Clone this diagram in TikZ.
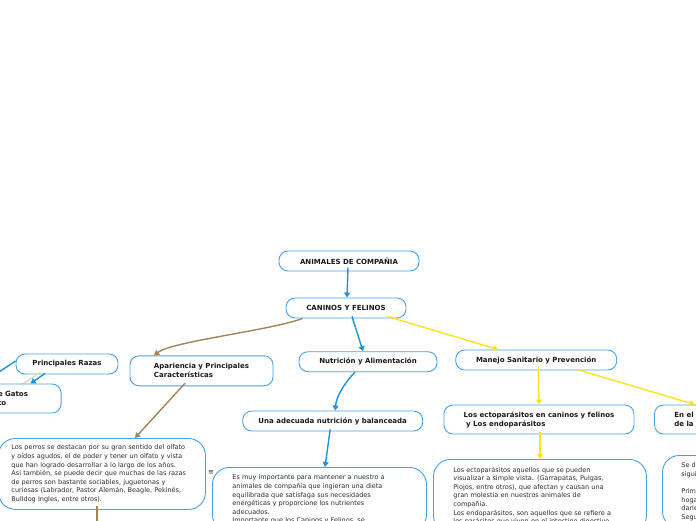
\documentclass[tikz,border=0pt]{standalone}
\usepackage{fontspec}
\setmainfont{DejaVu Sans}
\usetikzlibrary{arrows.meta}
\definecolor{boxblue}{RGB}{66,163,232}
\definecolor{conblue}{RGB}{30,146,222}
\definecolor{conbrown}{RGB}{163,132,88}
\definecolor{conyellow}{RGB}{255,226,30}
\definecolor{conbeige}{RGB}{236,216,172}
\definecolor{txtdark}{RGB}{25,25,25}
\definecolor{txtbody}{RGB}{45,45,45}
\begin{document}
\begin{tikzpicture}[x=1pt,y=-1pt,
  box/.style={draw=boxblue, line width=0.9pt, fill=white},
  titlebox/.style={box, rounded corners=9pt, font=\fontsize{7}{9}\selectfont\bfseries, text=txtdark, minimum height=20pt, inner sep=0pt},
  bodybox/.style={box, rounded corners=17pt, font=\fontsize{6.5}{8.6}\selectfont, text=txtbody, align=left, anchor=north west, inner ysep=7.5pt},
  tip/.style={-{Triangle[width=6pt,length=5pt]}},
  bluecon/.style={draw=conblue, line width=1.4pt, tip},
  browncon/.style={draw=conbrown, line width=1.4pt, tip},
  yellowcon/.style={draw=conyellow, line width=1.4pt, tip},
  noteicon/.style={font=\fontsize{7}{7}\selectfont, text=txtbody, inner sep=0pt}
]
\useasboundingbox (0,0) rectangle (696,520);
\clip (0,0) rectangle (696,520);
\fill[white] (0,0) rectangle (696,520);

% beige connector passing under the cats box
\coordinate (beigeend) at (14,390);
\node[titlebox, minimum width=102pt] (razas) at (67,364) {Principales Razas};
\draw[draw=conbeige, line width=1.4pt] ([xshift=-27pt,yshift=2pt]razas.south) -- (beigeend);
\coordinate (razasparent) at (-4,374);
\draw[draw=conblue, line width=1.4pt] (razasparent) -- ([yshift=3pt]razas.west);

% nodes
\node[titlebox, minimum width=140pt] (animales) at (349,261) {ANIMALES DE COMPAÑIA};
\node[titlebox, minimum width=120pt] (caninos) at (346,308) {CANINOS Y FELINOS};
\node[titlebox, align=left, minimum width=143pt, minimum height=30pt] (apariencia) at (201.5,370.8) {Apariencia y Principales\\Características};
\node[titlebox, minimum width=138pt] (nutri) at (368,361.7) {Nutrición y Alimentación};
\node[titlebox, minimum width=161pt] (manejo) at (536.2,360) {Manejo Sanitario y Prevención};
\node[titlebox, anchor=east, align=left, text width=53pt, inner xsep=10pt, minimum height=29pt] (gatos) at (61.5,398.5) {e Gatos\\to};
\node[titlebox, minimum width=180pt] (una) at (332.7,421) {Una adecuada nutrición y balanceada};
\node[titlebox, align=left, minimum width=190pt, minimum height=29pt] (ecto) at (539,419.5) {Los ectoparásitos en caninos y felinos\\\hspace*{2.5pt}y Los endoparásitos};
\node[titlebox, anchor=west, align=left, text width=60pt, inner xsep=20pt, minimum height=29pt] (enel) at (654,419.5) {En el r\\de la r};

\node[bodybox, text width=181pt, inner xsep=13pt, minimum height=71pt, inner ysep=4pt] (perros) at (-2,438) {Los perros se destacan por su gran sentido del olfato\\y oídos agudos, el de poder y tener un olfato y vista\\que han logrado desarrollar a lo largo de los años.\\Así también, se puede decir que muchas de las razas\\de perros son bastante sociables, juguetonas y\\curiosas (Labrador, Pastor Alemán, Beagle, Pekinés,\\Bulldog Ingles, entre otros).};
\node[bodybox, text width=174pt, inner xsep=20pt] (esmuy) at (212,467) {Es muy importante para mantener a nuestro a\\animales de compañía que ingieran una dieta\\equilibrada que satisfaga sus necesidades\\energéticas y proporcione los nutrientes\\adecuados.\\Importante que los Caninos y Felinos, se};
\node[bodybox, text width=173pt, inner xsep=20pt] (ectobody) at (433,459) {Los ectoparásitos aquellos que se pueden\\visualizar a simple vista. (Garrapatas, Pulgas,\\Piojos, entre otros), que afectan y causan una\\gran molestia en nuestros animales de\\compañía.\\Los endoparásitos, son aquellos que se refiere a\\los parásitos que viven en el intestino digestivo};
\node[bodybox, text width=60pt, inner xsep=19pt] (sed) at (662,455) {Se d\\sigui\\[8.6pt]Prim\\hoga\\darle\\Segu};

\node[noteicon] (note) at (211,473) {≡};

% connectors
\draw[bluecon] ([xshift=-1pt,yshift=4pt]animales.south) -- ([xshift=1pt]caninos.north);
\draw[browncon] ([xshift=17pt]caninos.south west) .. controls +(-32,12) and +(18,-14) .. ([xshift=24.5pt]apariencia.north west);
\draw[bluecon] ([xshift=6pt,yshift=2pt]caninos.south) -- ([xshift=-5pt]nutri.north);
\draw[yellowcon] ([xshift=-19pt,yshift=2pt]caninos.south east) -- ([xshift=-38pt]manejo.north);
\draw[yellowcon] ([xshift=2pt,yshift=4pt]manejo.south) -- (ecto.north);
\draw[yellowcon] ([xshift=-40pt,yshift=1pt]manejo.south east) -- ([xshift=41pt]enel.north west);
\draw[bluecon] ([xshift=-13pt]nutri.south) .. controls +(-10,10) and +(1,-14) .. ([xshift=2.5pt]una.north);
\draw[bluecon] ([xshift=-2.5pt,yshift=2pt]una.south) -- ([xshift=113pt]esmuy.north west);
\draw[browncon] ([xshift=-16.5pt,yshift=3pt]apariencia.south) -- ([xshift=137pt]perros.north west);
\draw[yellowcon] ([xshift=1pt,yshift=2pt]ecto.south) -- ([xshift=107pt]ectobody.north west);
\draw[bluecon] ([xshift=-22pt,yshift=1pt]razas.south) -- ([xshift=-31pt]gatos.north east);
\coordinate (perroschild) at (97,526);
\draw[draw=conbrown, line width=1.4pt] ([xshift=99pt,yshift=4pt]perros.south west) -- (perroschild);
\end{tikzpicture}
\end{document}
